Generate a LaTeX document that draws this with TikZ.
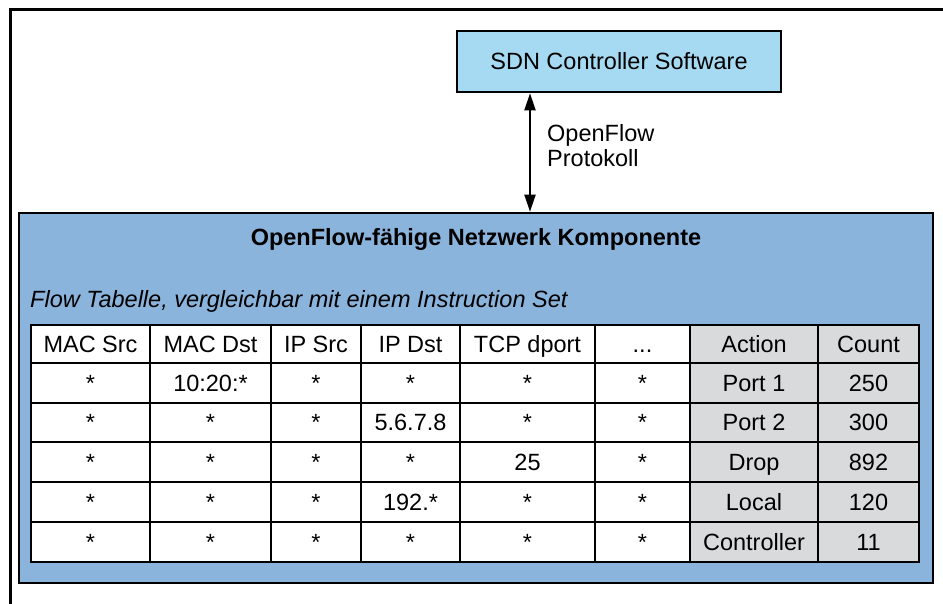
\documentclass[tikz,border=0pt]{standalone}
\usepackage{fontspec}
\setmainfont{Liberation Sans}
\usetikzlibrary{arrows.meta}

\definecolor{ctrlblue}{HTML}{A6DAF2}
\definecolor{boxblue}{HTML}{8AB4DC}
\definecolor{cellgray}{HTML}{D9DADC}

% column and row edges of the flow table
\def\colx{{31,150,271,361,460,595,690,818,919}}
\def\rowy{{325,363,403,442,482,522,562}}
\def\ellip{...}

\tikzset{
  txt/.style={font=\fontsize{23.5}{25}\selectfont, inner sep=0pt},
  cell/.style={txt, draw=black, line width=2.4pt, rectangle,
    text height=16.8pt, text depth=0pt, anchor=center},
  box/.style={draw=black, line width=2.6pt, rectangle, inner sep=0pt},
  link/.style={line width=2pt,
    {Triangle[length=17pt,width=11pt]}-{Triangle[length=17pt,width=11pt]}},
}

% one row of the table: #1 row index, #2 cell texts
\newcommand\flowrow[2]{%
  \foreach \txt [count=\c from 0] in {#2} {
    \pgfmathsetmacro\xa{\colx[\c]}
    \pgfmathsetmacro\xb{\colx[\c+1]}
    \pgfmathsetmacro\ya{\rowy[#1]}
    \pgfmathsetmacro\yb{\rowy[#1+1]}
    \pgfmathtruncatemacro\isgray{\c>5}
    \ifnum\isgray=1 \def\cellfill{cellgray}\else\def\cellfill{white}\fi
    \node[cell, fill=\cellfill,
      minimum width={(\xb-\xa)*1pt}, minimum height={(\yb-\ya)*1pt}]
      (cell-#1-\c) at ({(\xa+\xb)/2},{(\ya+\yb)/2}) {\txt};
  }%
}

\begin{document}
\begin{tikzpicture}[x=1pt,y=-1pt]
  \useasboundingbox (0,0) rectangle (943,604);

  % outer frame (open at right and bottom)
  \draw[line width=3pt] (10,604) -- (10,10) -- (943,10);

  % controller
  \node[box, fill=ctrlblue, minimum width=324pt, minimum height=61pt]
    (ctrl) at (619,61.5) {};
  \node[txt] (ctrltext) at (ctrl.center) {SDN Controller Software};

  % network component
  \node[box, fill=boxblue, minimum width=914pt, minimum height=370pt]
    (comp) at (476,398) {};
  \node[txt, anchor=base, font=\fontsize{23.5}{25}\selectfont\bfseries]
    (comptitle) at (476,246) {OpenFlow-fähige Netzwerk Komponente};
  \node[txt, anchor=base west, font=\fontsize{23.5}{25}\selectfont\itshape]
    (tablecap) at (30,308) {Flow Tabelle, vergleichbar mit einem Instruction Set};

  % protocol link
  \coordinate (ax) at (530,0);
  \draw[link] (ctrl.south -| ax) -- (comp.north -| ax);
  \node[txt, anchor=west, align=left] (proto) at (547,146)
    {OpenFlow\\Protokoll};

  % flow table
  \flowrow{0}{MAC Src,MAC Dst,IP Src,IP Dst,TCP dport,\ellip,Action,Count}
  \flowrow{1}{*,10:20:*,*,*,*,*,Port 1,250}
  \flowrow{2}{*,*,*,5.6.7.8,*,*,Port 2,300}
  \flowrow{3}{*,*,*,*,25,*,Drop,892}
  \flowrow{4}{*,*,*,192.*,*,*,Local,120}
  \flowrow{5}{*,*,*,*,*,*,Controller,11}
\end{tikzpicture}
\end{document}
